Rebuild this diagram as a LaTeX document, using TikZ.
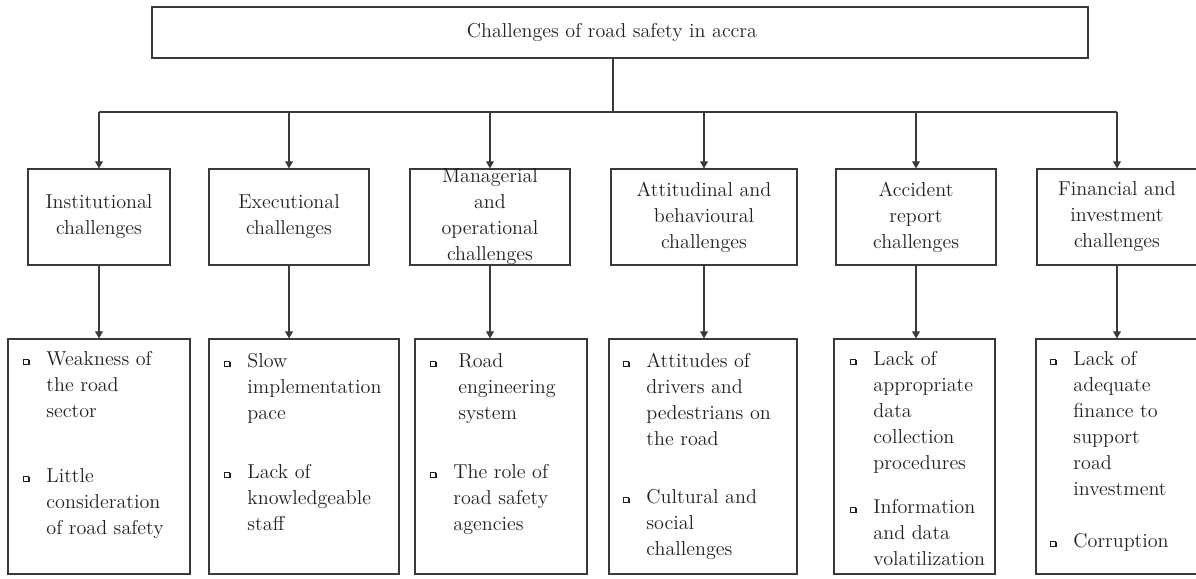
\documentclass[tikz,border=0pt]{standalone}
\usepackage{amsmath}
\usepackage{xcolor}
\usetikzlibrary{arrows.meta}

\definecolor{inkgray}{HTML}{231F20}
\definecolor{linegray}{HTML}{3A3A3A}

\newcommand{\bodyfont}{\fontsize{14.3}{18.5}\selectfont}
% shadowed square bullet
\newcommand{\sqbul}{\tikz[baseline=-0.6pt]{\fill[inkgray] (0.8pt, -0.8pt) rectangle ++(3.5pt, 3.5pt); \filldraw[draw=inkgray, fill=white, line width=0.4pt] (0, 0) rectangle ++(3.5pt, 3.5pt);}}
\newcommand{\bulletlist}[1]{\begin{tabular}[t]{@{}p{0.58cm}@{}l@{}}#1\end{tabular}}

\tikzset{
	box/.style={draw=linegray, line width=0.8pt, align=center, inner sep=0pt, font=\bodyfont, text=inkgray},
	entry/.style={anchor=base west, inner sep=0pt, font=\bodyfont, text=inkgray},
	link/.style={draw=linegray, line width=0.8pt},
	arrow/.style={link, -{Triangle[length=5pt, width=5.5pt]}}
}

\begin{document}
\begin{tikzpicture}
	\useasboundingbox (0, 0) rectangle (29.9, -14.45);
	\coordinate (split) at (15.325, -2.8);

	\node[box, minimum width=23.4cm, minimum height=1.275cm] (title) at (15.5, -0.8125) {\hspace{-0.4cm}Challenges of road safety in accra};

	% challenge groups
	\node[box, minimum width=3.55cm, minimum height=2.4cm] (inst) at (2.475, -5.425) {Institutional\\challenges};
	\node[box, minimum width=4.0cm, minimum height=2.4cm] (exec) at (7.225, -5.425) {Executional\\challenges};
	\node[box, minimum width=4.0cm, minimum height=2.4cm] (manag) at (12.25, -5.425) {Managerial\\and\\operational\\challenges};
	\node[box, minimum width=4.65cm, minimum height=2.4cm] (attit) at (17.6, -5.425) {Attitudinal and\\behavioural\\challenges};
	\node[box, minimum width=4.0cm, minimum height=2.4cm] (accid) at (22.9, -5.425) {Accident\\report\\challenges};
	\node[box, minimum width=4.0cm, minimum height=2.4cm] (financ) at (27.925, -5.425) {Financial and\\investment\\challenges};

	% boxes holding the bullet points
	\node[box, minimum width=4.55cm, minimum height=5.875cm] (list-inst) at (2.475, -11.4125) {};
	\node[box, minimum width=4.75cm, minimum height=5.875cm] (list-exec) at (7.6, -11.4125) {};
	\node[box, minimum width=4.3cm, minimum height=5.875cm] (list-manag) at (12.525, -11.4125) {};
	\node[box, minimum width=4.7cm, minimum height=5.875cm] (list-attit) at (17.575, -11.4125) {};
	\node[box, minimum width=4.025cm, minimum height=5.875cm] (list-accid) at (22.8625, -11.4125) {};
	\node[box, minimum width=4.025cm, minimum height=5.875cm] (list-financ) at (27.9125, -11.4125) {};

	\node[entry] (inst1) at (0.575, -9.125) {\bulletlist{\sqbul & Weakness of\\ & the road\\ & sector}};
	\node[entry] (inst2) at (0.575, -12.05) {\bulletlist{\sqbul & Little\\ & consideration\\ & of road safety}};
	\node[entry] (exec1) at (5.6, -9.175) {\bulletlist{\sqbul & Slow\\ & implementation\\ & pace}};
	\node[entry] (exec2) at (5.6, -11.95) {\bulletlist{\sqbul & Lack of\\ & knowledgeable\\ & staff}};
	\node[entry] (manag1) at (10.75, -9.175) {\bulletlist{\sqbul & \hspace{0.12cm}Road\\ & \hspace{0.12cm}engineering\\ & \hspace{0.12cm}system}};
	\node[entry] (manag2) at (10.75, -11.95) {\bulletlist{\sqbul & The role of\\ & road safety\\ & agencies}};
	\node[entry] (attit1) at (15.575, -9.175) {\bulletlist{\sqbul & Attitudes of\\ & drivers and\\ & pedestrians on\\ & the road}};
	\node[entry] (attit2) at (15.575, -12.575) {\bulletlist{\sqbul & Cultural and\\ & social\\ & challenges}};
	\node[entry] (accid1) at (21.25, -9.125) {\bulletlist{\sqbul & Lack of\\ & appropriate\\ & data\\ & collection\\ & procedures}};
	\node[entry] (accid2) at (21.25, -12.825) {\bulletlist{\sqbul & Information\\ & and data\\ & volatilization}};
	\node[entry] (financ1) at (26.25, -9.125) {\bulletlist{\sqbul & Lack of\\ & adequate\\ & finance to\\ & support\\ & road\\ & investment}};
	\node[entry] (financ2) at (26.25, -13.675) {\bulletlist{\sqbul & Corruption}};

	% connectors
	\draw[link] (title.south -| split) -- (split);
	\draw[link] (inst.north |- split) -- (financ.north |- split);
	\foreach \g in {inst, exec, manag, attit, accid, financ} {
		\draw[arrow] (\g.north |- split) -- (\g.north);
		\draw[arrow] (\g.south) -- (\g.south |- list-\g.north);
	}
\end{tikzpicture}
\end{document}
